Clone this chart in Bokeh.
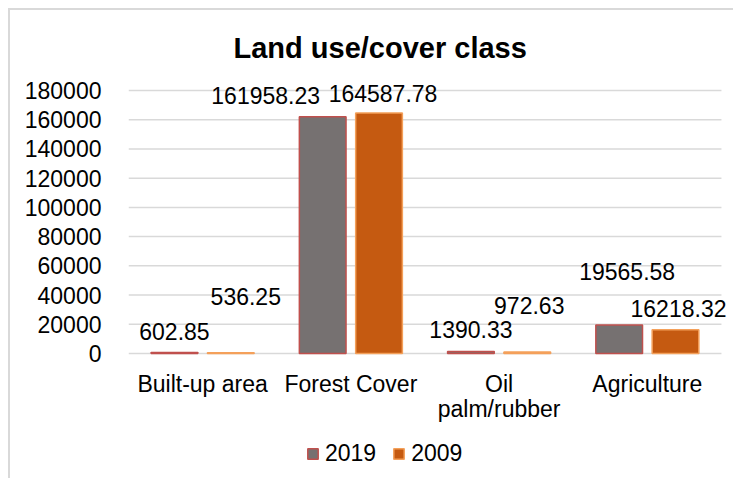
from bokeh.plotting import figure
from bokeh.models import ColumnDataSource, Range1d, FixedTicker, LabelSet, Legend, LegendItem
from bokeh.core.properties import value
from bokeh.embed import file_html
from bokeh.resources import INLINE

# ---- data ----
categories = ["Built-up area", "Forest Cover", "Oil palm/rubber", "Agriculture"]
tick_labels = ["Built-up area", "Forest Cover", "Oil\npalm/rubber", "Agriculture"]
series_names = ["2019", "2009"]
values_2019 = [602.85, 161958.23, 1390.33, 19565.58]
values_2009 = [536.25, 164587.78, 972.63, 16218.32]
label_text_2019 = ["602.85", "161958.23", "1390.33", "19565.58"]
label_text_2009 = ["536.25", "164587.78", "972.63", "16218.32"]
y_ticks = [0, 20000, 40000, 60000, 80000, 100000, 120000, 140000, 160000, 180000]

# ---- style ----
FONT = "Liberation Sans"
GRID = "#D9D9D9"
fill_colors = ["#767171", "#C55A11"]
line_colors = ["#C0504D", "#F4A05A"]
dodge_off = [-0.19, 0.19]
bar_w = 0.315
# manual data-label displacement (pixels): dx right, dy up
lab_dx = [[0, -57, 0, 8], [15, 4, 2, 3]]
lab_dy = [[21, 21, 22, 53], [56, 20, 47, 21]]
cat_label_first_offset = -17
cat_label_line_step = 25

n = len(categories)
idx = [i + 0.5 for i in range(n)]
ymax = y_ticks[-1]
px_per_unit = 263.0 / ymax          # plot scale: 263 px for the tick span
y_top = ymax + 10 / px_per_unit     # room above the top gridline
y_bottom = -122 / px_per_unit       # room below zero for category labels and legend
x_end = n + 0.061

p = figure(width=725, height=470, output_backend="svg", toolbar_location=None,
           x_range=Range1d(0, x_end), y_range=Range1d(y_bottom, y_top),
           min_border_left=118, min_border_right=5, min_border_top=70, min_border_bottom=5)
p.styles = {"margin-left": "8px", "margin-top": "8px",
            "border-left": "2px solid #D9D9D9", "border-top": "2px solid #D9D9D9"}
p.outline_line_color = None
p.background_fill_color = "white"
p.border_fill_color = "white"

p.title.text = "Land use/cover class"
p.title.text_font = FONT
p.title.text_font_size = "29px"
p.title.text_font_style = "bold"
p.title.text_color = "#000000"
p.title.align = "left"
p.title.offset = 105
p.title.standoff = 34

# horizontal gridlines at the y ticks, spanning the category area
p.segment(x0=[0] * len(y_ticks), x1=[n] * len(y_ticks), y0=y_ticks, y1=y_ticks,
          line_color=GRID, line_width=1.5)

renderers = []
for k, vals in enumerate([values_2019, values_2009]):
    xs = [c + dodge_off[k] for c in idx]
    src = ColumnDataSource(dict(x=xs, top=vals, text=[label_text_2019, label_text_2009][k],
                                dx=lab_dx[k], dy=lab_dy[k]))
    r = p.vbar(x="x", top="top", width=bar_w, bottom=0, source=src,
               fill_color=fill_colors[k], line_color=line_colors[k], line_width=1.5)
    renderers.append(r)
    ls = LabelSet(x="x", y="top", text="text", x_offset="dx", y_offset="dy", source=src,
                  text_align="center", text_baseline="middle", text_font=value(FONT),
                  text_font_size=value("23px"), text_color=value("#000000"))
    p.add_layout(ls)

# category labels under the zero line (each line centred)
cx, cy, ctext, coff = [], [], [], []
for c, lab in zip(idx, tick_labels):
    for j, line in enumerate(lab.split("\n")):
        cx.append(c)
        cy.append(0)
        ctext.append(line)
        coff.append(cat_label_first_offset - cat_label_line_step * j)
cat_src = ColumnDataSource(dict(x=cx, y=cy, text=ctext, off=coff))
cat_labels = LabelSet(x="x", y="y", text="text", y_offset="off", source=cat_src,
                      text_align="center", text_baseline="top", text_font=value(FONT),
                      text_font_size=value("23px"), text_color=value("#000000"))
p.add_layout(cat_labels)

p.xaxis.visible = False

p.yaxis.ticker = FixedTicker(ticks=y_ticks)
p.yaxis.major_label_text_font = FONT
p.yaxis.major_label_text_font_size = "23px"
p.yaxis.major_label_text_color = "#000000"
p.yaxis.major_label_standoff = 21
p.yaxis.axis_line_color = None
p.yaxis.major_tick_line_color = None
p.yaxis.minor_tick_line_color = None
p.yaxis.formatter.use_scientific = False

p.xgrid.grid_line_color = None
p.ygrid.grid_line_color = None

legend = Legend(items=[LegendItem(label=series_names[k], renderers=[renderers[k]]) for k in range(2)],
                orientation="horizontal", location=(178, 8))
legend.label_text_font = FONT
legend.label_text_font_size = "23px"
legend.label_text_color = "#000000"
legend.glyph_width = 13
legend.glyph_height = 13
legend.label_standoff = 6
legend.spacing = 16
legend.padding = 0
legend.margin = 0
legend.border_line_color = None
legend.background_fill_alpha = 0
p.add_layout(legend)

open("out.html", "w").write(file_html(p, INLINE))
